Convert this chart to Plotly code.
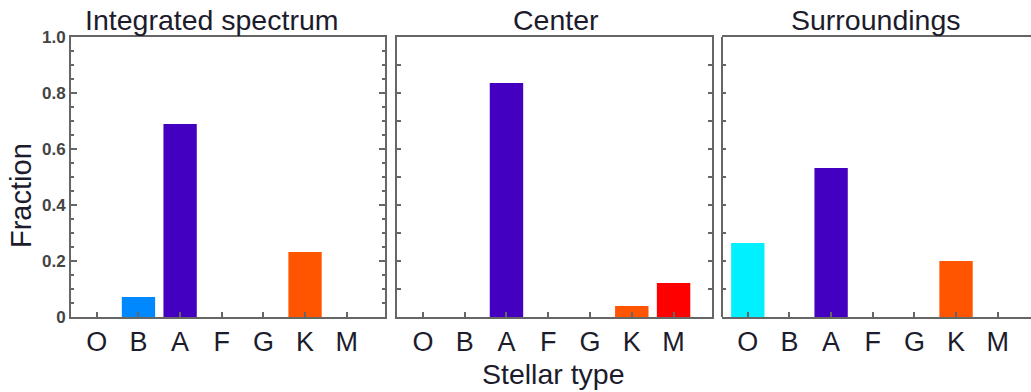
import plotly.graph_objects as go

stellar_types = ["O", "B", "A", "F", "G", "K", "M"]
type_colors = ["#00F0FF", "#0088FF", "#4400C0", "#88DD00", "#FFCC00", "#FF5500", "#FF0000"]
panel_titles = ["Integrated spectrum", "Center", "Surroundings"]
integrated = [0.0, 0.071, 0.689, 0.0, 0.0, 0.232, 0.0]
center = [0.0, 0.0, 0.836, 0.0, 0.0, 0.039, 0.121]
surroundings = [0.264, 0.0, 0.532, 0.0, 0.0, 0.200, 0.0]
ytick_vals = [0, 0.2, 0.4, 0.6, 0.8, 1.0]
ytick_text = ["0", "0.2", "0.4", "0.6", "0.8", "1.0"]

W, H = 1031, 392
series = [integrated, center, surroundings]
# pixel layout of panels
px_left = [71, 397, 722]
px_right = [385, 712, 1031]
xranges = [[-0.62, 6.92], [-0.62, 6.92], [-0.62, 6.80]]
ydom = [1 - 317 / H, 1 - 37 / H]
line_col = "#666666"
text_col = "#1c1c2c"
font_fam = "Liberation Sans, Arial, sans-serif"

fig = go.Figure()
for i, vals in enumerate(series):
    sfx = "" if i == 0 else str(i + 1)
    fig.add_trace(go.Bar(
        x=stellar_types, y=vals, width=0.8,
        marker=dict(color=type_colors, line=dict(width=0)),
        xaxis="x" + sfx, yaxis="y" + sfx, showlegend=False, hoverinfo="skip",
    ))
    xa = dict(
        domain=[px_left[i] / W, px_right[i] / W], anchor="y" + sfx,
        type="category", range=xranges[i], automargin=False,
        showline=True, linecolor=line_col, linewidth=2, mirror=True,
        ticks="inside", ticklen=5, tickwidth=2, tickcolor=line_col,
        tickfont=dict(family=font_fam, size=27, color=text_col),
        showgrid=False, zeroline=False, fixedrange=True,
    )
    ya = dict(
        domain=ydom, anchor="x" + sfx, range=[0, 1.0], automargin=False,
        showline=(i < 2), linecolor=line_col, linewidth=2,
        mirror=("ticks" if i < 2 else False),
        ticks="inside", tickwidth=2, tickcolor=line_col,
        showgrid=False, zeroline=False, fixedrange=True,
    )
    if i == 0:
        ya.update(tickvals=ytick_vals, ticktext=ytick_text, ticklen=6,
                  tickfont=dict(family=font_fam, size=17, color="#444444", weight="bold"),
                  minor=dict(dtick=0.05, ticks="inside", ticklen=3, tickwidth=2,
                             tickcolor=line_col, showgrid=False))
    else:
        ya.update(dtick=0.1, tick0=0, ticklen=4, showticklabels=False)
    fig.layout["xaxis" + sfx] = xa
    fig.layout["yaxis" + sfx] = ya

# left frame edge of the third panel (its right edge lies outside the picture)
fig.add_shape(type="line", xref="paper", yref="paper",
              x0=px_left[2] / W, x1=px_left[2] / W, y0=ydom[0], y1=ydom[1],
              line=dict(color=line_col, width=2))

title_x = [211, 556, 876]
annotations = []
for t, cx in zip(panel_titles, title_x):
    annotations.append(dict(text=t, x=cx / W, y=1 - 20 / H, xref="paper", yref="paper",
                            showarrow=False, xanchor="center", yanchor="middle",
                            font=dict(family=font_fam, size=28.5, color=text_col)))
annotations.append(dict(text="Fraction", x=21 / W, y=1 - 196 / H, xref="paper", yref="paper",
                        showarrow=False, textangle=-90, xanchor="center", yanchor="middle",
                        font=dict(family=font_fam, size=29, color=text_col)))
annotations.append(dict(text="Stellar type", x=553 / W, y=1 - 374 / H, xref="paper", yref="paper",
                        showarrow=False, xanchor="center", yanchor="middle",
                        font=dict(family=font_fam, size=28.5, color=text_col)))

fig.update_layout(
    width=W, height=H, margin=dict(l=0, r=0, t=0, b=0),
    paper_bgcolor="white", plot_bgcolor="white",
    annotations=annotations, bargap=0.2,
)
fig.write_html("out.html", config={"displayModeBar": False, "staticPlot": True},
               post_script="document.body.style.margin='0';document.body.style.overflow='hidden';")
